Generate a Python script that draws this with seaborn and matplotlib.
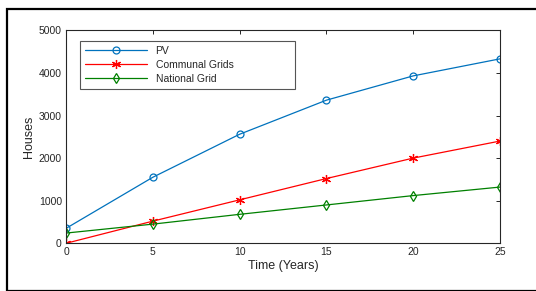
import matplotlib
matplotlib.use("Agg")
import matplotlib.pyplot as plt
import seaborn as sns
import pandas as pd
from matplotlib.patches import Rectangle

years = [0, 5, 10, 15, 20, 25]
pv = [350, 1550, 2560, 3360, 3930, 4330]
communal = [0, 520, 1020, 1520, 2000, 2400]
national = [240, 450, 680, 900, 1120, 1320]

series = ["PV", "Communal Grids", "National Grid"]
colors = ["#0072BD", "#FF0000", "#008000"]
markers = ["o", (6, 2, 0), "d"]

sns.set_style("white")
plt.rcParams['font.family'] = ['Liberation Sans', 'DejaVu Sans']

df = pd.DataFrame({
    "Time": years * 3,
    "Houses": pv + communal + national,
    "Series": [s for s in series for _ in years],
})

fig = plt.figure(figsize=(5.36, 2.91), dpi=100)
ax = fig.add_axes([66 / 536, 1 - 243.3 / 291, 434 / 536, 213 / 291])

# outer frame
fig.patches.append(Rectangle((7 / 536, 0.5 / 291), 1.0, 1 - 9.5 / 291,
                             transform=fig.transFigure, fill=False,
                             edgecolor='black', linewidth=1.6))

for s, c, m in zip(series, colors, markers):
    sub = df[df["Series"] == s]
    ms = 6.5 if s == "Communal Grids" else 5
    sns.lineplot(data=sub, x="Time", y="Houses", ax=ax, color=c, marker=m,
                 markersize=ms, markerfacecolor='none', markeredgecolor=c,
                 markeredgewidth=0.9, linewidth=0.9, label=s)

ax.set_xlim(0, 25)
ax.set_ylim(0, 5000)
ax.set_xticks(years)
ax.set_yticks([0, 1000, 2000, 3000, 4000, 5000])
ax.tick_params(direction='in', top=True, right=True, length=3, width=0.7,
               labelsize=7.5, colors='#262626', pad=3)
for sp in ax.spines.values():
    sp.set_color('#262626')
    sp.set_linewidth(0.8)
ax.set_xlabel("Time (Years)", fontsize=9, color='#262626', labelpad=2)
ax.set_ylabel("Houses", fontsize=9, color='#262626', labelpad=3)

leg = ax.legend(loc='upper left', bbox_to_anchor=(14 / 434, 0.733, 0.496, 0.217),
                mode='expand', fontsize=7.5, handlelength=6.0, handletextpad=0.8,
                frameon=True, fancybox=False, edgecolor='#555555', framealpha=1,
                borderpad=0.45, labelspacing=0.4, borderaxespad=0)
leg.get_frame().set_linewidth(0.8)

fig.savefig("out.png", dpi=100)
